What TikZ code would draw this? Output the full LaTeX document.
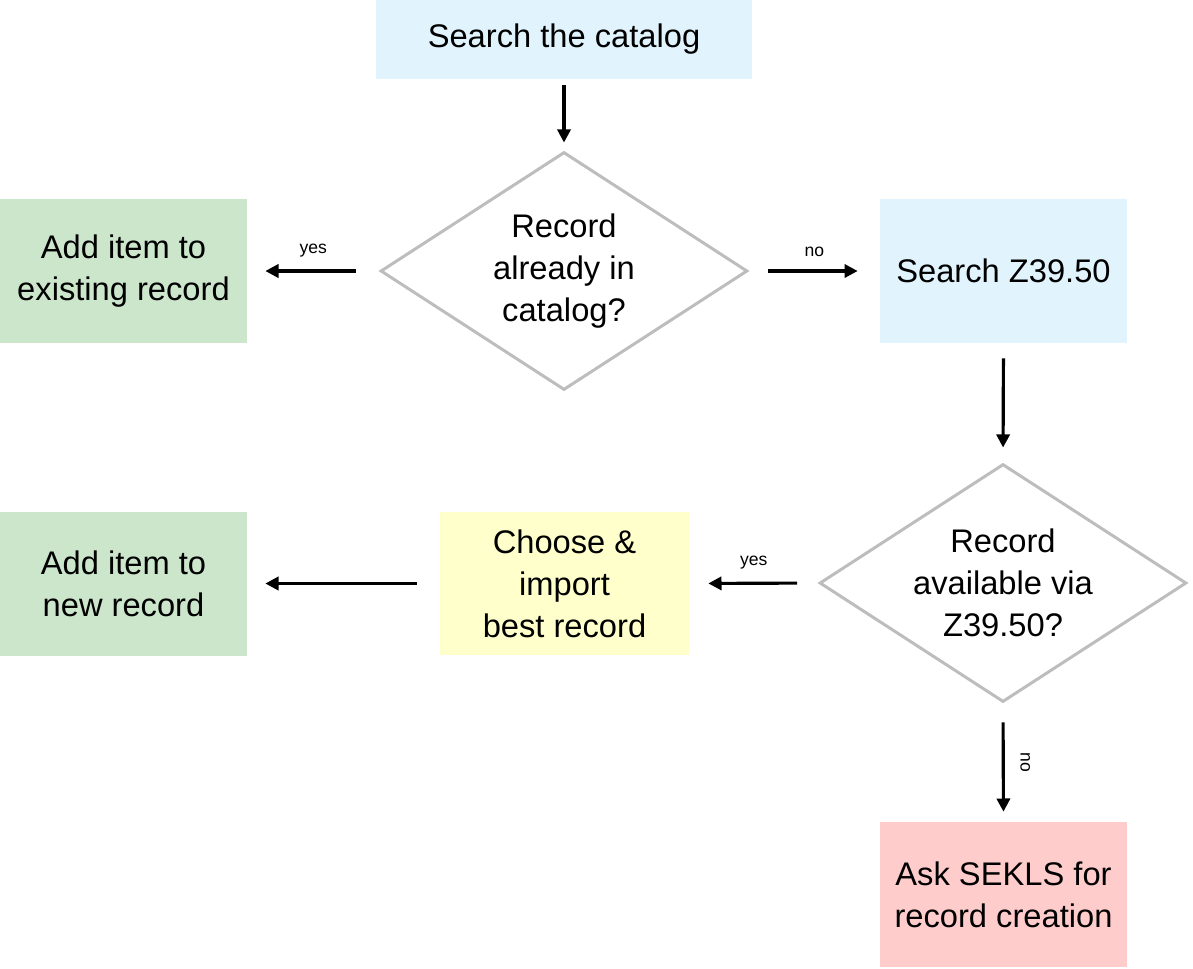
\documentclass[tikz,border=0pt]{standalone}
\usepackage{fontspec}
\setmainfont{Liberation Sans}
\usetikzlibrary{shapes.geometric,arrows.meta}
\definecolor{stepblue}{HTML}{E1F4FD}
\definecolor{stepgreen}{HTML}{CCE6CC}
\definecolor{stepyellow}{HTML}{FFFFCC}
\definecolor{steppink}{HTML}{FFCCCC}
\definecolor{diagray}{HTML}{BDBDBD}
\begin{document}
\begin{tikzpicture}[x=0.02cm,y=-0.02cm,
  box/.style={fill=#1,minimum width=4.94cm,minimum height=2.88cm,inner sep=0pt,
    align=center,font=\fontsize{18.6pt}{23.8pt}\selectfont},
  decision/.style={diamond,draw=diagray,line width=1.7pt,aspect=1.54,
    minimum width=7.34cm,minimum height=4.76cm,inner sep=0pt,
    align=center,font=\fontsize{18.6pt}{23.8pt}\selectfont},
  flow/.style={line width=1.8pt,-{Triangle[length=7.5pt,width=7.5pt]}},
  lbl/.style={font=\fontsize{10pt}{12pt}\selectfont,inner sep=1pt}]
\useasboundingbox (0,0) rectangle (1193,968);
\node[box=stepblue,minimum width=7.52cm,minimum height=1.58cm] (search) at (564,39.5) {Search the catalog};
\node[decision] (inCat) at (564,271) {Record\\already in\\catalog?};
\node[box=stepgreen] (addOld) at (123.5,271) {Add item to\\existing record};
\node[box=stepblue] (searchZ) at (1003.5,271) {Search Z39.50};
\node[decision] (inZ) at (1003,583) {Record\\available via\\Z39.50?};
\node[box=stepyellow,minimum width=4.98cm,minimum height=2.86cm] (choose) at (564.5,583.5) {Choose \&\\import\\best record};
\node[box=stepgreen] (addNew) at (123.5,583.5) {Add item to\\new record};
\node[box=steppink,minimum height=2.9cm] (askSekls) at (1003.5,894.5) {Ask SEKLS for\\record creation};

\draw[flow,shorten <=0.12cm,shorten >=0.16cm] (search.south) -- (inCat.north);
\draw[flow,shorten <=0.46cm,shorten >=0.36cm] (inCat.west) -- node[lbl,above=6pt] (yesOld) {yes} (addOld.east);
\draw[flow,shorten <=0.38cm,shorten >=0.44cm] (inCat.east) -- node[lbl,above=6pt] (noCat) {no} (searchZ.west);
\draw[flow,shorten <=0.3cm,shorten >=0.3cm] (searchZ.south) -- (inZ.north);
\draw[flow,shorten <=0.42cm,shorten >=0.38cm] (inZ.west) -- node[lbl,above=6pt] (yesZ) {yes} (choose.east);
\draw[flow,shorten <=0.46cm,shorten >=0.36cm] (choose.west) -- (addNew.east);
\draw[flow,shorten <=0.38cm,shorten >=0.2cm] (inZ.south) -- node[lbl,xshift=12.5pt,rotate=-90] (noZ) {no} (askSekls.north);
\end{tikzpicture}
\end{document}
